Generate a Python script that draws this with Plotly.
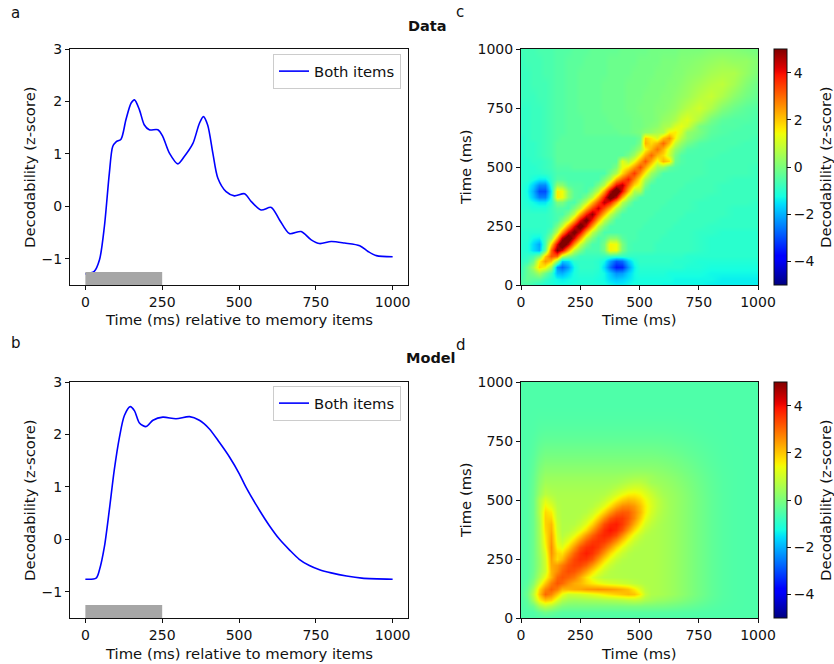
import plotly.graph_objects as go

# ---------------- data ----------------
# Panel a: decodability time course (data)
data_time = [0, 29, 46, 62, 78, 89, 100, 116, 132, 149, 160, 176, 192, 208, 236, 252, 274,
             301, 322, 350, 371, 384, 398, 415, 431, 458, 485, 518, 540, 572, 605, 632,
             664, 702, 735, 762, 800, 844, 893, 920, 947, 1000]
data_z = [-1.29, -1.24, -1.02, -0.38, 0.63, 1.14, 1.23, 1.28, 1.65, 1.97, 2.03, 1.84, 1.55,
          1.46, 1.46, 1.33, 1.01, 0.81, 0.95, 1.20, 1.58, 1.71, 1.55, 1.01, 0.54, 0.28, 0.20,
          0.24, 0.09, -0.07, -0.02, -0.26, -0.52, -0.48, -0.64, -0.71, -0.67, -0.70, -0.75,
          -0.86, -0.94, -0.96]

# Panel b: decodability time course (model)
model_time = [0, 35, 46, 62, 78, 94, 111, 127, 146, 160, 176, 198, 220, 252, 295, 339, 371,
              403, 436, 469, 501, 523, 566, 599, 632, 664, 696, 729, 762, 800, 850, 900, 1000]
model_z = [-0.76, -0.74, -0.58, -0.14, 0.56, 1.32, 1.95, 2.36, 2.53, 2.45, 2.22, 2.15, 2.27,
           2.33, 2.30, 2.34, 2.27, 2.11, 1.85, 1.57, 1.25, 0.99, 0.56, 0.26, 0.00, -0.20,
           -0.38, -0.50, -0.58, -0.64, -0.70, -0.74, -0.76]

# Memory-item presentation window (ms)
stim_window = [0, 250]

# Temporal generalisation grid (train/test time, ms): 25 ms steps up to 700, then 50 ms
gen_time = [0, 25, 50, 75, 100, 125, 150, 175, 200, 225, 250, 275, 300, 325, 350, 375, 400,
            425, 450, 475, 500, 525, 550, 575, 600, 625, 650, 675, 700, 750, 800, 850, 900,
            950, 1000]

# Data generalisation matrix: one row per y value of gen_time, one column per x value
data_gen = [
    [-0.5, -0.6, -0.8, -1.0, -1.1, -1.1, -1.2, -1.2, -1.2, -1.1, -1.1, -1.1, -1.1, -1.1, -1.2, -1.3, -1.4, -1.4, -1.3, -1.2, -1.2, -1.2, -1.2, -1.2, -1.3, -1.3, -1.3, -1.3, -1.3, -1.3, -1.4, -1.4, -1.4, -1.4, -1.4],
    [-0.6, -0.3, -0.4, -0.4, -0.8, -1.1, -1.3, -1.4, -1.3, -1.2, -1.1, -1.1, -1.1, -1.2, -1.3, -1.6, -1.8, -1.7, -1.5, -1.3, -1.2, -1.2, -1.2, -1.2, -1.2, -1.2, -1.3, -1.3, -1.3, -1.3, -1.3, -1.4, -1.4, -1.4, -1.4],
    [-0.7, -0.3, 0.0, 0.5, -0.2, -0.8, -1.9, -2.0, -1.6, -1.2, -1.0, -1.0, -1.0, -1.1, -1.3, -1.8, -2.3, -2.2, -1.7, -1.3, -1.1, -1.1, -1.1, -1.1, -1.1, -1.2, -1.2, -1.2, -1.2, -1.2, -1.3, -1.3, -1.3, -1.3, -1.3],
    [-0.8, -0.3, 0.5, 1.8, 1.5, 0.4, -2.3, -2.8, -2.2, -1.3, -0.9, -0.9, -0.9, -1.0, -1.6, -2.7, -3.5, -3.4, -2.3, -1.4, -1.0, -1.0, -1.0, -1.0, -1.0, -1.0, -1.0, -1.0, -1.1, -1.1, -1.2, -1.2, -1.2, -1.2, -1.2],
    [-0.9, -0.8, -0.2, 1.5, 2.5, 2.0, 0.2, -1.8, -1.6, -1.0, -0.9, -0.9, -0.9, -1.0, -1.3, -2.2, -2.9, -2.7, -1.8, -1.2, -0.9, -0.9, -0.9, -0.9, -0.9, -0.9, -1.0, -1.0, -1.0, -1.1, -1.1, -1.1, -1.1, -1.1, -1.1],
    [-1.0, -0.9, -0.7, 0.0, 2.0, 3.2, 3.0, 0.8, 0.1, -0.4, -0.8, -0.8, -0.8, -0.8, -0.8, -0.8, -0.9, -0.9, -0.9, -0.9, -0.9, -0.9, -0.9, -0.9, -0.9, -0.9, -0.9, -0.9, -1.0, -1.0, -1.0, -1.0, -1.0, -1.0, -1.0],
    [-1.0, -1.1, -1.6, -2.0, -0.3, 3.0, 5.0, 4.2, 2.4, 0.8, 0.0, -0.6, -0.6, -0.6, -0.1, 1.5, 1.4, 0.0, -0.6, -0.7, -0.7, -0.7, -0.7, -0.8, -0.8, -0.8, -0.8, -0.8, -0.8, -0.9, -1.0, -1.0, -1.0, -1.0, -1.0],
    [-1.0, -1.1, -1.6, -2.1, -0.6, 1.8, 4.2, 6.0, 4.5, 2.5, 0.9, 0.0, -0.6, -0.6, -0.1, 1.5, 1.4, 0.0, -0.6, -0.7, -0.7, -0.7, -0.7, -0.8, -0.8, -0.8, -0.8, -0.8, -0.8, -0.9, -1.0, -1.0, -1.0, -1.0, -1.0],
    [-1.0, -1.0, -1.3, -1.4, -0.7, 0.3, 2.4, 4.5, 5.8, 4.2, 2.5, 0.8, 0.0, -0.6, -0.4, 0.2, 0.2, -0.4, -0.6, -0.6, -0.7, -0.7, -0.7, -0.7, -0.8, -0.8, -0.8, -0.8, -0.8, -0.9, -1.0, -1.0, -1.0, -1.0, -1.0],
    [-1.0, -1.0, -1.0, -1.0, -0.9, -0.4, 0.8, 2.5, 4.2, 5.3, 4.1, 2.3, 0.8, 0.0, -0.6, -0.6, -0.6, -0.6, -0.6, -0.6, -0.7, -0.7, -0.7, -0.7, -0.7, -0.8, -0.8, -0.8, -0.8, -0.9, -0.9, -1.0, -1.0, -1.0, -1.0],
    [-0.9, -0.9, -0.9, -0.9, -0.9, -0.8, 0.0, 0.9, 2.5, 4.1, 5.6, 4.1, 2.4, 0.8, 0.0, -0.6, -0.6, -0.6, -0.6, -0.6, -0.6, -0.7, -0.7, -0.7, -0.7, -0.7, -0.8, -0.8, -0.8, -0.8, -0.9, -0.9, -0.9, -0.9, -0.9],
    [-0.9, -0.9, -0.9, -0.9, -0.9, -0.8, -0.6, 0.0, 0.8, 2.3, 4.1, 5.3, 3.8, 2.2, 0.8, 0.0, -0.6, -0.6, -0.6, -0.6, -0.6, -0.6, -0.7, -0.7, -0.7, -0.7, -0.7, -0.8, -0.8, -0.8, -0.8, -0.9, -0.9, -0.9, -0.9],
    [-0.9, -0.9, -0.9, -0.9, -0.9, -0.8, -0.6, -0.6, 0.0, 0.8, 2.4, 3.8, 4.8, 3.4, 2.1, 0.8, 0.0, -0.6, -0.6, -0.6, -0.6, -0.6, -0.6, -0.7, -0.7, -0.7, -0.7, -0.7, -0.8, -0.8, -0.8, -0.8, -0.9, -0.9, -0.9],
    [-1.0, -1.0, -1.1, -1.1, -1.1, -0.8, -0.5, -0.5, -0.6, 0.0, 0.8, 2.2, 3.4, 4.3, 3.3, 2.2, 0.8, 0.0, -0.6, -0.6, -0.6, -0.6, -0.6, -0.6, -0.7, -0.7, -0.7, -0.7, -0.7, -0.8, -0.8, -0.8, -0.9, -0.9, -0.9],
    [-1.0, -1.1, -1.3, -1.5, -1.5, -1.0, 0.0, 0.0, -0.5, -0.6, 0.0, 0.8, 2.1, 3.3, 4.5, 3.8, 2.4, 0.7, 0.0, -0.6, -0.6, -0.6, -0.6, -0.6, -0.6, -0.7, -0.7, -0.7, -0.7, -0.8, -0.8, -0.8, -0.8, -0.8, -0.9],
    [-1.0, -1.2, -1.8, -2.5, -2.5, -1.2, 1.6, 1.4, 0.2, -0.4, -0.5, 0.0, 0.8, 2.2, 3.8, 5.6, 4.4, 2.3, 0.7, 0.0, -0.6, -0.6, -0.6, -0.6, -0.6, -0.6, -0.7, -0.7, -0.7, -0.7, -0.8, -0.8, -0.8, -0.8, -0.8],
    [-1.0, -1.3, -2.0, -3.0, -3.0, -1.4, 1.6, 1.4, 0.2, -0.4, -0.5, -0.6, 0.0, 0.8, 2.4, 4.4, 6.0, 4.0, 2.2, 0.6, 0.6, -0.5, -0.6, -0.6, -0.6, -0.6, -0.6, -0.7, -0.7, -0.7, -0.7, -0.8, -0.8, -0.8, -0.8],
    [-1.0, -1.2, -1.7, -2.4, -2.4, -1.1, 0.3, 0.2, -0.4, -0.5, -0.5, -0.6, -0.6, 0.0, 0.7, 2.3, 4.0, 4.5, 3.1, 1.8, 1.2, 0.0, -0.6, -0.6, -0.6, -0.6, -0.6, -0.6, -0.7, -0.7, -0.7, -0.8, -0.8, -0.8, -0.8],
    [-1.0, -1.0, -1.2, -1.4, -1.4, -0.9, -0.5, -0.5, -0.6, -0.6, -0.6, -0.6, -0.6, -0.6, 0.0, 0.7, 2.2, 3.1, 3.8, 2.7, 1.6, 0.5, -0.1, -0.6, -0.6, -0.6, -0.6, -0.6, -0.6, -0.7, -0.7, -0.7, -0.8, -0.8, -0.8],
    [-1.0, -1.0, -1.0, -1.0, -0.9, -0.8, -0.6, -0.6, -0.6, -0.6, -0.6, -0.6, -0.6, -0.6, -0.6, 0.0, 0.6, 1.8, 2.7, 3.5, 2.5, 1.5, 0.4, -0.1, -0.6, -0.6, -0.6, -0.6, -0.6, -0.6, -0.7, -0.7, -0.7, -0.7, -0.8],
    [-1.0, -1.0, -1.0, -0.9, -0.8, -0.7, -0.5, -0.5, -0.5, -0.4, -0.4, -0.4, -0.4, -0.4, -0.4, -0.4, 0.0, 1.3, 1.7, 2.5, 3.3, 2.4, 1.4, 0.4, 0.3, -0.3, -0.5, -0.6, -0.6, -0.6, -0.7, -0.7, -0.7, -0.7, -0.8],
    [-1.0, -1.0, -0.9, -0.9, -0.8, -0.7, -0.4, -0.4, -0.4, -0.4, -0.4, -0.4, -0.4, -0.4, -0.4, -0.4, -0.4, 1.2, 0.6, 1.4, 2.4, 3.2, 2.3, 1.3, 2.2, 1.8, -0.2, -0.5, -0.6, -0.6, -0.7, -0.7, -0.7, -0.7, -0.7],
    [-1.0, -0.9, -0.9, -0.8, -0.7, -0.6, -0.4, -0.4, -0.4, -0.4, -0.4, -0.4, -0.4, -0.4, -0.4, -0.4, -0.4, -0.4, -0.1, 0.4, 1.4, 2.3, 3.0, 2.2, 1.8, 1.0, 0.0, -0.5, -0.6, -0.6, -0.6, -0.7, -0.7, -0.7, -0.7],
    [-1.0, -0.9, -0.9, -0.8, -0.7, -0.6, -0.4, -0.4, -0.4, -0.4, -0.4, -0.4, -0.4, -0.4, -0.4, -0.4, -0.4, -0.4, -0.4, -0.1, 0.4, 1.5, 2.2, 2.9, 2.2, 1.2, 0.3, -0.1, -0.5, -0.6, -0.6, -0.6, -0.7, -0.7, -0.7],
    [-1.0, -0.9, -0.9, -0.8, -0.7, -0.6, -0.4, -0.4, -0.4, -0.4, -0.4, -0.4, -0.4, -0.4, -0.4, -0.4, -0.4, -0.4, -0.4, -0.4, 0.0, 2.2, 1.8, 2.2, 3.0, 2.1, 0.9, 0.3, -0.1, -0.5, -0.6, -0.6, -0.6, -0.7, -0.7],
    [-1.0, -0.9, -0.8, -0.8, -0.7, -0.6, -0.5, -0.4, -0.4, -0.4, -0.4, -0.4, -0.4, -0.4, -0.4, -0.4, -0.4, -0.4, -0.4, -0.4, -0.2, 2.0, 1.6, 1.1, 2.1, 2.6, 1.5, 0.7, 0.2, -0.2, -0.5, -0.6, -0.6, -0.6, -0.7],
    [-0.9, -0.9, -0.8, -0.8, -0.7, -0.6, -0.5, -0.5, -0.4, -0.4, -0.4, -0.3, -0.3, -0.3, -0.3, -0.3, -0.3, -0.2, -0.2, -0.1, 0.0, 0.2, 0.3, 0.5, 0.6, 1.5, 1.6, 1.1, 0.3, 0.0, -0.4, -0.5, -0.6, -0.6, -0.6],
    [-0.9, -0.9, -0.8, -0.8, -0.7, -0.6, -0.5, -0.5, -0.4, -0.4, -0.4, -0.3, -0.3, -0.3, -0.3, -0.3, -0.2, -0.2, -0.2, -0.1, -0.1, 0.0, 0.1, 0.2, 0.5, 0.6, 1.1, 1.3, 1.0, 0.0, -0.3, -0.5, -0.5, -0.6, -0.6],
    [-0.9, -0.9, -0.8, -0.8, -0.7, -0.6, -0.5, -0.5, -0.4, -0.4, -0.4, -0.3, -0.3, -0.3, -0.3, -0.2, -0.2, -0.2, -0.2, -0.1, -0.1, 0.0, 0.0, 0.1, 0.3, 0.4, 0.6, 1.0, 1.2, 0.6, -0.1, -0.4, -0.5, -0.5, -0.6],
    [-0.9, -0.9, -0.8, -0.8, -0.7, -0.6, -0.5, -0.5, -0.4, -0.4, -0.3, -0.3, -0.3, -0.3, -0.2, -0.2, -0.2, -0.2, -0.1, -0.1, 0.0, 0.0, 0.0, 0.1, 0.1, 0.2, 0.3, 0.5, 0.7, 1.0, 0.6, 0.1, -0.2, -0.4, -0.5],
    [-0.8, -0.8, -0.8, -0.7, -0.7, -0.6, -0.5, -0.5, -0.4, -0.4, -0.3, -0.3, -0.3, -0.3, -0.2, -0.2, -0.2, -0.2, -0.1, -0.1, -0.1, 0.0, 0.0, 0.0, 0.1, 0.1, 0.2, 0.3, 0.4, 0.7, 0.9, 0.6, 0.2, -0.1, -0.3],
    [-0.8, -0.8, -0.7, -0.7, -0.7, -0.6, -0.5, -0.5, -0.4, -0.4, -0.3, -0.3, -0.3, -0.3, -0.2, -0.2, -0.2, -0.2, -0.1, -0.1, -0.1, -0.1, 0.0, 0.0, 0.0, 0.1, 0.1, 0.2, 0.3, 0.5, 0.7, 0.8, 0.5, 0.1, -0.2],
    [-0.8, -0.8, -0.7, -0.7, -0.6, -0.6, -0.5, -0.5, -0.4, -0.4, -0.3, -0.3, -0.3, -0.3, -0.3, -0.2, -0.2, -0.2, -0.2, -0.1, -0.1, -0.1, -0.1, 0.0, 0.0, 0.0, 0.1, 0.1, 0.2, 0.3, 0.5, 0.6, 0.6, 0.3, 0.0],
    [-0.8, -0.7, -0.7, -0.7, -0.6, -0.6, -0.5, -0.5, -0.4, -0.4, -0.4, -0.3, -0.3, -0.3, -0.3, -0.2, -0.2, -0.2, -0.2, -0.2, -0.1, -0.1, -0.1, -0.1, 0.0, 0.0, 0.0, 0.1, 0.1, 0.2, 0.3, 0.4, 0.3, 0.3, 0.1],
    [-0.7, -0.7, -0.7, -0.6, -0.6, -0.6, -0.5, -0.5, -0.5, -0.4, -0.4, -0.4, -0.3, -0.3, -0.3, -0.3, -0.3, -0.2, -0.2, -0.2, -0.2, -0.2, -0.1, -0.1, -0.1, -0.1, -0.1, 0.0, 0.0, 0.0, 0.1, 0.1, 0.1, 0.0, -0.1],
]

# Model generalisation matrix: one row per y value of gen_time, one column per x value
_model_tail = [0.57, 0.51, 0.43, 0.34, 0.23, 0.12, -0.11, -0.32, -0.46, -0.53, -0.55, -0.55]
model_gen = [
    [-0.55] * 35,
    [-0.55, -0.54, -0.52, -0.32, -0.14, -0.24, -0.35] + [-0.43] * 16 + [-0.44, -0.44, -0.45, -0.46, -0.47, -0.48, -0.51, -0.53, -0.54, -0.55, -0.55, -0.55],
    [-0.55, -0.42, -0.2, 0.49, 0.81, 0.62, 0.27, 0.06, -0.03, -0.03, -0.03, -0.03, -0.03, -0.03, -0.03, -0.03, -0.02, -0.02, 0.0, 0.0, 0.0, -0.03, -0.03, -0.05, -0.07, -0.11, -0.15, -0.2, -0.25, -0.35, -0.45, -0.51, -0.54, -0.55, -0.55],
    [-0.55, -0.34, 0.47, 1.5, 2.01, 1.82, 1.12, 0.64, 0.45, 0.39, 0.41, 0.44, 0.46, 0.48, 0.53, 0.56, 0.59, 0.66, 0.73, 0.79, 0.71, 0.54, 0.44, 0.34, 0.3, 0.23, 0.16, 0.08, -0.02, -0.2, -0.37, -0.48, -0.53, -0.55, -0.55],
    [-0.52, -0.18, 0.73, 2.0, 3.0, 2.68, 1.98, 1.35, 0.95, 1.0, 1.05, 1.15, 1.26, 1.4, 1.58, 1.74, 1.88, 2.0, 2.12, 2.02, 1.55, 0.89, 0.6] + _model_tail,
    [-0.53, -0.29, 0.5, 1.79, 2.68, 3.1, 2.77, 2.2, 2.2, 2.3, 2.35, 2.5, 2.55, 2.6, 2.54, 2.48, 2.38, 2.24, 2.04, 1.62, 1.15, 0.75, 0.6] + _model_tail,
    [-0.55, -0.41, 0.12, 1.08, 1.98, 2.77, 3.2, 3.0, 2.6, 2.3, 2.15, 1.85, 1.62, 1.42, 1.26, 1.14, 1.06, 0.97, 0.89, 0.76, 0.68, 0.62, 0.6] + _model_tail,
    [-0.55, -0.49, -0.11, 0.59, 1.35, 2.2, 3.0, 3.2, 3.05, 2.81, 2.31, 1.72, 1.24, 0.9, 0.72, 0.68, 0.66, 0.64, 0.62, 0.61, 0.6, 0.6, 0.6] + _model_tail,
    [-0.55, -0.49, -0.2, 0.4, 0.95, 2.2, 2.6, 3.05, 3.3, 3.21, 2.9, 2.4, 1.8, 1.28, 0.92, 0.7, 0.64, 0.62, 0.61, 0.6, 0.6, 0.6, 0.6] + _model_tail,
    [-0.55, -0.49, -0.2, 0.31, 1.0, 2.3, 2.45, 2.81, 3.21, 3.4, 3.36, 3.06, 2.52, 1.88, 1.29, 0.91, 0.69, 0.62, 0.61, 0.6, 0.6, 0.6, 0.6] + _model_tail,
    [-0.55, -0.49, -0.2, 0.31, 1.05, 2.4, 1.75, 2.15, 2.9, 3.36, 3.6, 3.55, 3.22, 2.55, 1.84, 1.27, 0.9, 0.69, 0.62, 0.6, 0.6, 0.6, 0.6] + _model_tail,
    [-0.55, -0.49, -0.2, 0.38, 1.17, 2.55, 1.8, 1.72, 2.4, 3.06, 3.55, 3.8, 3.59, 3.14, 2.49, 1.8, 1.27, 0.91, 0.69, 0.61, 0.6, 0.6, 0.6] + _model_tail,
    [-0.55, -0.49, -0.2, 0.42, 1.4, 2.6, 1.45, 1.24, 1.8, 2.52, 3.22, 3.59, 3.7, 3.5, 3.06, 2.49, 1.84, 1.3, 0.93, 0.7, 0.62, 0.6, 0.6] + _model_tail,
    [-0.55, -0.49, -0.2, 0.46, 1.56, 2.49, 1.24, 0.9, 1.28, 1.88, 2.55, 3.14, 3.5, 3.6, 3.5, 3.14, 2.58, 1.92, 1.32, 0.92, 0.7, 0.62, 0.6] + _model_tail,
    [-0.55, -0.49, -0.2, 0.48, 1.64, 2.4, 1.14, 0.7, 0.92, 1.29, 1.84, 2.49, 3.06, 3.5, 3.7, 3.64, 3.31, 2.62, 1.88, 1.27, 0.89, 0.68, 0.61] + _model_tail,
    [-0.55, -0.49, -0.2, 0.5, 1.78, 2.25, 1.03, 0.65, 0.69, 0.91, 1.27, 1.8, 2.49, 3.14, 3.64, 3.9, 3.69, 3.22, 2.49, 1.76, 1.19, 0.85, 0.66] + _model_tail,
    [-0.55, -0.49, -0.2, 0.5, 1.86, 2.13, 0.96, 0.64, 0.65, 0.69, 0.91, 1.27, 1.84, 2.58, 3.31, 3.69, 3.8, 3.5, 2.98, 2.27, 1.6, 1.08, 0.79, 0.62, 0.51, 0.43, 0.34, 0.23, 0.12, -0.11, -0.32, -0.46, -0.53, -0.55, -0.55],
    [-0.55, -0.49, -0.2, 0.56, 1.88, 1.82, 0.84, 0.62, 0.61, 0.62, 0.7, 0.93, 1.3, 1.92, 2.62, 3.22, 3.5, 3.5, 3.17, 2.65, 1.96, 1.36, 0.94, 0.69, 0.55, 0.43, 0.34, 0.23, 0.12, -0.11, -0.32, -0.46, -0.53, -0.55, -0.55],
    [-0.55, -0.49, -0.2, 0.65, 1.79, 1.58, 0.77, 0.61, 0.6, 0.61, 0.62, 0.7, 0.93, 1.32, 1.88, 2.49, 2.98, 3.17, 3.1, 2.69, 2.16, 1.56, 1.08, 0.77, 0.58, 0.45, 0.34, 0.23, 0.12, -0.11, -0.32, -0.46, -0.53, -0.55, -0.55],
    [-0.55, -0.49, -0.2, 0.6, 1.5, 1.2, 0.7, 0.61, 0.6, 0.6, 0.61, 0.62, 0.7, 0.92, 1.27, 1.76, 2.27, 2.65, 2.69, 2.5, 2.07, 1.58, 1.16, 0.82, 0.61, 0.45, 0.34, 0.23, 0.12, -0.11, -0.32, -0.46, -0.53, -0.55, -0.55],
    [-0.55, -0.49, -0.2, 0.6, 1.18, 0.89, 0.62, 0.6, 0.6, 0.6, 0.6, 0.61, 0.62, 0.68, 0.89, 1.19, 1.6, 1.96, 2.16, 2.07, 1.8, 1.46, 1.09, 0.81, 0.59, 0.43, 0.34, 0.23, 0.12, -0.11, -0.32, -0.46, -0.53, -0.55, -0.55],
    [-0.55, -0.49, -0.22, 0.35, 0.75, 0.65, 0.57, 0.57, 0.57, 0.57, 0.57, 0.57, 0.57, 0.6, 0.65, 0.82, 1.06, 1.34, 1.55, 1.58, 1.45, 1.2, 0.93, 0.67, 0.5, 0.4, 0.31, 0.21, 0.1, -0.13, -0.33, -0.46, -0.53, -0.55, -0.55],
    [-0.55, -0.5, -0.23, 0.26, 0.6, 0.53, 0.51, 0.51, 0.51, 0.51, 0.51, 0.51, 0.51, 0.51, 0.53, 0.58, 0.71, 0.87, 1.03, 1.12, 1.08, 0.93, 0.7, 0.55, 0.42, 0.35, 0.26, 0.17, 0.06, -0.15, -0.34, -0.47, -0.53, -0.55, -0.55],
    [-0.55, -0.5, -0.26, 0.18, 0.45] + [0.43] * 10 + [0.45, 0.48, 0.57, 0.67, 0.74, 0.75, 0.65, 0.46, 0.4, 0.35, 0.28, 0.2, 0.11, 0.02, -0.18, -0.35, -0.47, -0.53, -0.55, -0.55],
    [-0.55, -0.51, -0.28, 0.11] + [0.34] * 12 + [0.36, 0.39, 0.43, 0.47, 0.48, 0.47, 0.4, 0.31, 0.26, 0.2, 0.13, 0.05, -0.04, -0.21, -0.37, -0.48, -0.53, -0.55, -0.55],
    [-0.55, -0.51, -0.32, 0.04] + [0.23] * 13 + [0.24, 0.26, 0.28, 0.29, 0.28, 0.25, 0.21, 0.17, 0.11, 0.05, -0.02, -0.1, -0.25, -0.39, -0.49, -0.53, -0.55, -0.55],
    [-0.55, -0.52, -0.35, -0.05] + [0.12] * 19 + [0.1, 0.06, 0.02, -0.04, -0.1, -0.16, -0.3, -0.42, -0.5, -0.54, -0.55, -0.55],
    [-0.55, -0.52, -0.38, -0.14] + [0.0] * 19 + [-0.01, -0.04, -0.08, -0.12, -0.17, -0.23, -0.34, -0.44, -0.51, -0.54, -0.55, -0.55],
    [-0.55, -0.53, -0.42, -0.22] + [-0.11] * 19 + [-0.13, -0.15, -0.18, -0.21, -0.25, -0.3, -0.38, -0.46, -0.52, -0.54, -0.55, -0.55],
    [-0.55, -0.54, -0.47, -0.36] + [-0.3] * 19 + [-0.3, -0.32, -0.33, -0.36, -0.38, -0.4, -0.45, -0.5, -0.53, -0.55, -0.55, -0.55],
    [-0.55, -0.54, -0.52, -0.46] + [-0.435] * 19 + [-0.44, -0.44, -0.45, -0.46, -0.47, -0.48, -0.51, -0.53, -0.54, -0.55, -0.55, -0.55],
    [-0.55, -0.55, -0.54, -0.52] + [-0.52] * 19 + [-0.52, -0.52, -0.52, -0.52, -0.53, -0.53, -0.54, -0.54, -0.55, -0.55, -0.55, -0.55],
    [-0.55] * 35,
    [-0.55] * 35,
    [-0.55] * 35,
]

line_xticks = [0, 250, 500, 750, 1000]
line_yticks = [-1, 0, 1, 2, 3]
gen_ticks = [0, 250, 500, 750, 1000]
cbar_ticks = [-4, -2, 0, 2, 4]

for grid in (data_gen, model_gen):
    assert len(grid) == len(gen_time)
    assert all(len(row) == len(gen_time) for row in grid)

# ---------------- styling helpers ----------------
W, H = 834, 664
FONT = "DejaVu Sans"
INK = "#111111"
TICK_SIZE = 14
LABEL_SIZE = 14.8


def fx(p):
    return p / W


def fy(p):
    return 1 - p / H


# matplotlib "jet" segment data
_JET = {
    "r": [(0, 0), (0.35, 0), (0.66, 1), (0.89, 1), (1, 0.5)],
    "g": [(0, 0), (0.125, 0), (0.375, 1), (0.64, 1), (0.91, 0), (1, 0)],
    "b": [(0, 0.5), (0.11, 1), (0.34, 1), (0.65, 0), (1, 0)],
}


def _chan(pts, t):
    for (t0, v0), (t1, v1) in zip(pts[:-1], pts[1:]):
        if t0 <= t <= t1:
            return v0 + (v1 - v0) * (t - t0) / (t1 - t0) if t1 > t0 else v1
    return pts[-1][1]


def jet_scale(n=64):
    stops = []
    for i in range(n + 1):
        t = i / n
        r, g, b = (round(255 * _chan(_JET[c], t)) for c in "rgb")
        stops.append([t, f"rgb({r},{g},{b})"])
    return stops


JET = jet_scale()

axis_common = dict(
    showline=True, mirror=True, linecolor=INK, linewidth=1,
    ticks="outside", ticklen=4, tickwidth=1, tickcolor=INK,
    showgrid=False, zeroline=False, automargin=False,
    tickfont=dict(family=FONT, size=TICK_SIZE, color=INK),
)

fig = go.Figure()

# line panels
for t, z, xa, ya, lg in ((data_time, data_z, "x", "y", "legend"),
                         (model_time, model_z, "x2", "y2", "legend2")):
    fig.add_trace(go.Scatter(
        x=t, y=z, mode="lines", name="Both items", showlegend=True,
        line=dict(color="#0000ff", width=1.6, shape="spline", smoothing=0.8),
        xaxis=xa, yaxis=ya, legend=lg,
    ))


def cbar(bottom_px):
    return dict(
        x=fx(774), xanchor="left", xpad=0,
        y=fy(bottom_px), yanchor="bottom", ypad=0,
        len=236 / H, lenmode="fraction",
        thickness=13, thicknessmode="pixels",
        outlinewidth=1, outlinecolor=INK,
        tickvals=cbar_ticks, ticks="outside", ticklen=4, tickcolor=INK,
        tickfont=dict(family=FONT, size=TICK_SIZE, color=INK),
    )


for z, xa, ya, bottom in ((data_gen, "x3", "y3", 285), (model_gen, "x4", "y4", 618)):
    fig.add_trace(go.Heatmap(
        x=gen_time, y=gen_time, z=z, colorscale=JET, zmin=-5, zmax=5,
        zsmooth="best", xaxis=xa, yaxis=ya, colorbar=cbar(bottom),
        hoverinfo="skip", showlegend=False,
    ))

# stimulus presentation bars
for xr, yr in (("x", "y"), ("x2", "y2")):
    fig.add_shape(type="rect", xref=xr, yref=yr,
                  x0=stim_window[0], x1=stim_window[1], y0=-1.5, y1=-1.25,
                  fillcolor="#a6a6a6", line=dict(width=0), layer="above")

line_x = dict(axis_common, range=[-50, 1050], tickvals=line_xticks)
line_y = dict(axis_common, range=[-1.5, 3], tickvals=line_yticks)
gen_ax = dict(axis_common, range=[0, 1000], tickvals=gen_ticks)

legend_style = dict(
    xanchor="right", yanchor="top", bgcolor="white",
    bordercolor="#cccccc", borderwidth=1,
    font=dict(family=FONT, size=LABEL_SIZE, color=INK),
)

fig.update_layout(
    width=W, height=H,
    margin=dict(l=0, r=0, t=0, b=0),
    paper_bgcolor="white", plot_bgcolor="white",
    font=dict(family=FONT, size=TICK_SIZE, color=INK),
    showlegend=True,
    xaxis=dict(line_x, domain=[fx(70), fx(408)], anchor="y"),
    yaxis=dict(line_y, domain=[fy(285), fy(49)], anchor="x"),
    xaxis2=dict(line_x, domain=[fx(70), fx(408)], anchor="y2"),
    yaxis2=dict(line_y, domain=[fy(618), fy(382)], anchor="x2"),
    xaxis3=dict(gen_ax, domain=[fx(521), fx(758)], anchor="y3"),
    yaxis3=dict(gen_ax, domain=[fy(285), fy(49)], anchor="x3"),
    xaxis4=dict(gen_ax, domain=[fx(521), fx(758)], anchor="y4"),
    yaxis4=dict(gen_ax, domain=[fy(618), fy(382)], anchor="x4"),
    legend=dict(legend_style, x=fx(401), y=fy(54)),
    legend2=dict(legend_style, x=fx(401), y=fy(386)),
)

# axis titles, panel letters and row titles
texts = [
    # text, x px, y px, angle, bold, size
    ("Time (ms) relative to memory items", 239, 319, 0, False, LABEL_SIZE),
    ("Time (ms) relative to memory items", 239, 653, 0, False, LABEL_SIZE),
    ("Decodability (z-score)", 29, 167, -90, False, LABEL_SIZE),
    ("Decodability (z-score)", 29, 500, -90, False, LABEL_SIZE),
    ("Time (ms)", 639, 319, 0, False, LABEL_SIZE),
    ("Time (ms)", 639, 653, 0, False, LABEL_SIZE),
    ("Time (ms)", 465, 167, -90, False, LABEL_SIZE),
    ("Time (ms)", 465, 500, -90, False, LABEL_SIZE),
    ("Decodability (z-score)", 825, 167, -90, False, LABEL_SIZE),
    ("Decodability (z-score)", 825, 500, -90, False, LABEL_SIZE),
    ("a", 15, 13, 0, False, 15),
    ("c", 460, 12, 0, False, 15),
    ("b", 16, 343, 0, False, 15),
    ("d", 461, 345, 0, False, 15),
    ("Data", 427, 26, 0, True, 14.5),
    ("Model", 431, 358, 0, True, 14.5),
]
for text, x, y, angle, bold, size in texts:
    fig.add_annotation(
        text=f"<b>{text}</b>" if bold else text,
        x=fx(x), y=fy(y), xref="paper", yref="paper",
        xanchor="center", yanchor="middle", showarrow=False, textangle=angle,
        font=dict(family=FONT, size=size, color=INK),
    )

fig.write_html("out.html")
